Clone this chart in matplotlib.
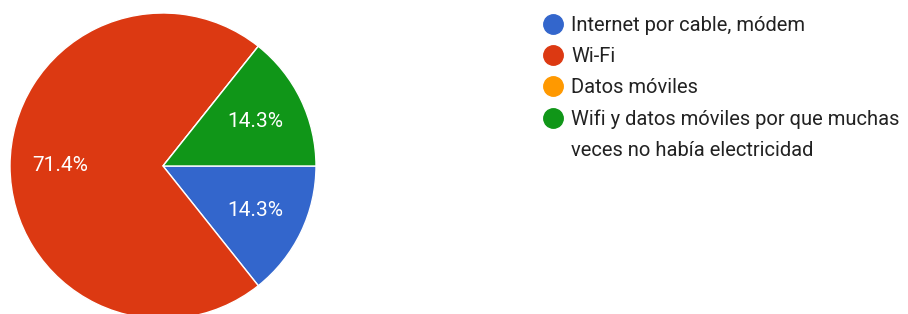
import matplotlib.pyplot as plt
from matplotlib.lines import Line2D

# respuestas (en %)
labels = ["Internet por cable, módem", "Wi-Fi", "Datos móviles",
          "Wifi y datos móviles por que muchas\nveces no había electricidad"]
values = [14.3, 71.4, 0.0, 14.3]
colors = ["#3366cc", "#dc3912", "#ff9900", "#109618"]

plt.rcParams['font.family'] = ['Roboto', 'DejaVu Sans']

fig = plt.figure(figsize=(9.08, 3.14), dpi=100)
ax = fig.add_axes([10 / 908, -5 / 314, 306 / 908, 306 / 314])

def fmt(p):
    return "%.1f%%" % p if p > 0 else ""

wedges, texts, autotexts = ax.pie(values, colors=colors, startangle=0, counterclock=False,
                                  autopct=fmt, pctdistance=0.67,
                                  wedgeprops=dict(edgecolor="white", linewidth=1),
                                  textprops=dict(color="white", fontsize=15))
ax.set_xlim(-1, 1)
ax.set_ylim(-1, 1)
ax.set_aspect("equal")

# legende : une ligne par entree, la 2e ligne d'un libelle long sans marqueur
handles, leg_labels = [], []
for lab, c in zip(labels, colors):
    for i, part in enumerate(lab.split("\n")):
        if i == 0:
            h = Line2D([], [], marker="o", linestyle="", markersize=14,
                       markerfacecolor=c, markeredgecolor=c)
        else:
            h = Line2D([], [], linestyle="", marker="")
        handles.append(h)
        leg_labels.append(part)

leg = fig.legend(handles, leg_labels, loc="upper left", bbox_to_anchor=(525 / 908, 1 + 2 / 314),
                 frameon=False, fontsize=14.5, handlelength=1.0, handletextpad=0.4,
                 labelspacing=0.6, labelcolor="#222222")

fig.savefig("out.png", dpi=100)
